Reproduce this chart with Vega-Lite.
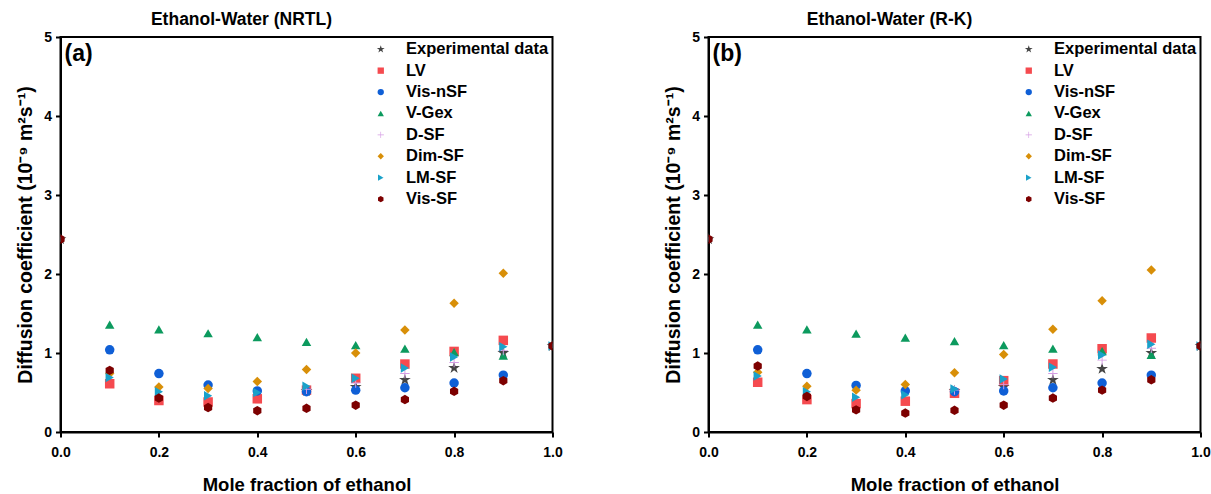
{
  "$schema": "https://vega.github.io/schema/vega-lite/v6.json",
  "padding": {"left": 14.5, "top": 9, "right": 0, "bottom": 0},
  "background": "white",
  "spacing": 99,
  "datasets": {
    "nrtl": [
      {"series": "Experimental data", "x": 0.0, "D": 2.44},
      {"series": "Experimental data", "x": 0.5, "D": 0.52},
      {"series": "Experimental data", "x": 0.6, "D": 0.57},
      {"series": "Experimental data", "x": 0.7, "D": 0.66},
      {"series": "Experimental data", "x": 0.8, "D": 0.81},
      {"series": "Experimental data", "x": 0.9, "D": 1.00},
      {"series": "Experimental data", "x": 1.0, "D": 1.09},
      {"series": "LV", "x": 0.1, "D": 0.61},
      {"series": "LV", "x": 0.2, "D": 0.40},
      {"series": "LV", "x": 0.3, "D": 0.38},
      {"series": "LV", "x": 0.4, "D": 0.42},
      {"series": "LV", "x": 0.5, "D": 0.53},
      {"series": "LV", "x": 0.6, "D": 0.68},
      {"series": "LV", "x": 0.7, "D": 0.86},
      {"series": "LV", "x": 0.8, "D": 1.02},
      {"series": "LV", "x": 0.9, "D": 1.16},
      {"series": "Vis-nSF", "x": 0.1, "D": 1.04},
      {"series": "Vis-nSF", "x": 0.2, "D": 0.74},
      {"series": "Vis-nSF", "x": 0.3, "D": 0.595},
      {"series": "Vis-nSF", "x": 0.4, "D": 0.52},
      {"series": "Vis-nSF", "x": 0.5, "D": 0.51},
      {"series": "Vis-nSF", "x": 0.6, "D": 0.53},
      {"series": "Vis-nSF", "x": 0.7, "D": 0.56},
      {"series": "Vis-nSF", "x": 0.8, "D": 0.62},
      {"series": "Vis-nSF", "x": 0.9, "D": 0.72},
      {"series": "V-Gex", "x": 0.1, "D": 1.36},
      {"series": "V-Gex", "x": 0.2, "D": 1.30},
      {"series": "V-Gex", "x": 0.3, "D": 1.25},
      {"series": "V-Gex", "x": 0.4, "D": 1.20},
      {"series": "V-Gex", "x": 0.5, "D": 1.14},
      {"series": "V-Gex", "x": 0.6, "D": 1.10},
      {"series": "V-Gex", "x": 0.7, "D": 1.055},
      {"series": "V-Gex", "x": 0.8, "D": 1.01},
      {"series": "V-Gex", "x": 0.9, "D": 0.965},
      {"series": "D-SF", "x": 0.5, "D": 0.54},
      {"series": "D-SF", "x": 0.6, "D": 0.62},
      {"series": "D-SF", "x": 0.7, "D": 0.74},
      {"series": "D-SF", "x": 0.8, "D": 0.88},
      {"series": "D-SF", "x": 0.9, "D": 1.03},
      {"series": "Dim-SF", "x": 0.1, "D": 0.74},
      {"series": "Dim-SF", "x": 0.2, "D": 0.57},
      {"series": "Dim-SF", "x": 0.3, "D": 0.55},
      {"series": "Dim-SF", "x": 0.4, "D": 0.64},
      {"series": "Dim-SF", "x": 0.5, "D": 0.79},
      {"series": "Dim-SF", "x": 0.6, "D": 1.00},
      {"series": "Dim-SF", "x": 0.7, "D": 1.29},
      {"series": "Dim-SF", "x": 0.8, "D": 1.63},
      {"series": "Dim-SF", "x": 0.9, "D": 2.01},
      {"series": "LM-SF", "x": 0.0, "D": 2.44},
      {"series": "LM-SF", "x": 0.1, "D": 0.69},
      {"series": "LM-SF", "x": 0.2, "D": 0.51},
      {"series": "LM-SF", "x": 0.3, "D": 0.46},
      {"series": "LM-SF", "x": 0.4, "D": 0.50},
      {"series": "LM-SF", "x": 0.5, "D": 0.58},
      {"series": "LM-SF", "x": 0.6, "D": 0.68},
      {"series": "LM-SF", "x": 0.7, "D": 0.81},
      {"series": "LM-SF", "x": 0.8, "D": 0.95},
      {"series": "LM-SF", "x": 0.9, "D": 1.08},
      {"series": "LM-SF", "x": 1.0, "D": 1.09},
      {"series": "Vis-SF", "x": 0.0, "D": 2.44},
      {"series": "Vis-SF", "x": 0.1, "D": 0.78},
      {"series": "Vis-SF", "x": 0.2, "D": 0.43},
      {"series": "Vis-SF", "x": 0.3, "D": 0.31},
      {"series": "Vis-SF", "x": 0.4, "D": 0.27},
      {"series": "Vis-SF", "x": 0.5, "D": 0.30},
      {"series": "Vis-SF", "x": 0.6, "D": 0.34},
      {"series": "Vis-SF", "x": 0.7, "D": 0.41},
      {"series": "Vis-SF", "x": 0.8, "D": 0.515},
      {"series": "Vis-SF", "x": 0.9, "D": 0.65},
      {"series": "Vis-SF", "x": 1.0, "D": 1.09}
    ],
    "rk": [
      {"series": "Experimental data", "x": 0.0, "D": 2.44},
      {"series": "Experimental data", "x": 0.5, "D": 0.52},
      {"series": "Experimental data", "x": 0.6, "D": 0.57},
      {"series": "Experimental data", "x": 0.7, "D": 0.66},
      {"series": "Experimental data", "x": 0.8, "D": 0.80},
      {"series": "Experimental data", "x": 0.9, "D": 1.00},
      {"series": "Experimental data", "x": 1.0, "D": 1.09},
      {"series": "LV", "x": 0.1, "D": 0.63},
      {"series": "LV", "x": 0.2, "D": 0.41},
      {"series": "LV", "x": 0.3, "D": 0.36},
      {"series": "LV", "x": 0.4, "D": 0.39},
      {"series": "LV", "x": 0.5, "D": 0.49},
      {"series": "LV", "x": 0.6, "D": 0.65},
      {"series": "LV", "x": 0.7, "D": 0.86},
      {"series": "LV", "x": 0.8, "D": 1.055},
      {"series": "LV", "x": 0.9, "D": 1.19},
      {"series": "Vis-nSF", "x": 0.1, "D": 1.04},
      {"series": "Vis-nSF", "x": 0.2, "D": 0.74},
      {"series": "Vis-nSF", "x": 0.3, "D": 0.59},
      {"series": "Vis-nSF", "x": 0.4, "D": 0.52},
      {"series": "Vis-nSF", "x": 0.5, "D": 0.51},
      {"series": "Vis-nSF", "x": 0.6, "D": 0.52},
      {"series": "Vis-nSF", "x": 0.7, "D": 0.56},
      {"series": "Vis-nSF", "x": 0.8, "D": 0.62},
      {"series": "Vis-nSF", "x": 0.9, "D": 0.72},
      {"series": "V-Gex", "x": 0.1, "D": 1.36},
      {"series": "V-Gex", "x": 0.2, "D": 1.30},
      {"series": "V-Gex", "x": 0.3, "D": 1.245},
      {"series": "V-Gex", "x": 0.4, "D": 1.195},
      {"series": "V-Gex", "x": 0.5, "D": 1.15},
      {"series": "V-Gex", "x": 0.6, "D": 1.10},
      {"series": "V-Gex", "x": 0.7, "D": 1.055},
      {"series": "V-Gex", "x": 0.8, "D": 1.025},
      {"series": "V-Gex", "x": 0.9, "D": 0.975},
      {"series": "D-SF", "x": 0.5, "D": 0.53},
      {"series": "D-SF", "x": 0.6, "D": 0.60},
      {"series": "D-SF", "x": 0.7, "D": 0.74},
      {"series": "D-SF", "x": 0.8, "D": 0.91},
      {"series": "D-SF", "x": 0.9, "D": 1.06},
      {"series": "Dim-SF", "x": 0.1, "D": 0.755},
      {"series": "Dim-SF", "x": 0.2, "D": 0.58},
      {"series": "Dim-SF", "x": 0.3, "D": 0.53},
      {"series": "Dim-SF", "x": 0.4, "D": 0.60},
      {"series": "Dim-SF", "x": 0.5, "D": 0.75},
      {"series": "Dim-SF", "x": 0.6, "D": 0.98},
      {"series": "Dim-SF", "x": 0.7, "D": 1.30},
      {"series": "Dim-SF", "x": 0.8, "D": 1.66},
      {"series": "Dim-SF", "x": 0.9, "D": 2.05},
      {"series": "LM-SF", "x": 0.0, "D": 2.44},
      {"series": "LM-SF", "x": 0.1, "D": 0.71},
      {"series": "LM-SF", "x": 0.2, "D": 0.51},
      {"series": "LM-SF", "x": 0.3, "D": 0.44},
      {"series": "LM-SF", "x": 0.4, "D": 0.47},
      {"series": "LM-SF", "x": 0.5, "D": 0.545},
      {"series": "LM-SF", "x": 0.6, "D": 0.67},
      {"series": "LM-SF", "x": 0.7, "D": 0.82},
      {"series": "LM-SF", "x": 0.8, "D": 0.975},
      {"series": "LM-SF", "x": 0.9, "D": 1.11},
      {"series": "LM-SF", "x": 1.0, "D": 1.09},
      {"series": "Vis-SF", "x": 0.0, "D": 2.44},
      {"series": "Vis-SF", "x": 0.1, "D": 0.835},
      {"series": "Vis-SF", "x": 0.2, "D": 0.45},
      {"series": "Vis-SF", "x": 0.3, "D": 0.28},
      {"series": "Vis-SF", "x": 0.4, "D": 0.24},
      {"series": "Vis-SF", "x": 0.5, "D": 0.275},
      {"series": "Vis-SF", "x": 0.6, "D": 0.34},
      {"series": "Vis-SF", "x": 0.7, "D": 0.43},
      {"series": "Vis-SF", "x": 0.8, "D": 0.53},
      {"series": "Vis-SF", "x": 0.9, "D": 0.66},
      {"series": "Vis-SF", "x": 1.0, "D": 1.09}
    ]
  },
  "hconcat": [
    {
      "width": 492,
      "height": 395,
      "title": {"text": "Ethanol-Water (NRTL)", "dx": -65},
      "layer": [
        {
          "data": {"name": "nrtl"},
          "mark": {"type": "point", "filled": true, "opacity": 1, "size": 90, "clip": true},
          "encoding": {
            "x": {"field": "x", "type": "quantitative", "title": "Mole fraction of ethanol",
                  "scale": {"domain": [0, 1], "nice": false},
                  "axis": {"values": [0, 0.2, 0.4, 0.6, 0.8, 1.0], "format": ".1f"}},
            "y": {"field": "D", "type": "quantitative", "title": "Diffusion coefficient (10⁻⁹ m²s⁻¹)",
                  "scale": {"domain": [0, 5], "nice": false},
                  "axis": {"values": [0, 1, 2, 3, 4, 5], "format": "d"}},
            "color": {"field": "series", "type": "nominal",
                      "scale": {"domain": ["Experimental data", "LV", "Vis-nSF", "V-Gex", "D-SF", "Dim-SF", "LM-SF", "Vis-SF"],
                                "range": ["#454545", "#f54a4f", "#0f5fd6", "#0c9a5e", "#d59de4", "#d88f08", "#1aa1c9", "#7d0000"]},
                      "legend": {"title": null, "orient": "top-right", "offset": 4}},
            "shape": {"field": "series", "type": "nominal",
                      "scale": {"domain": ["Experimental data", "LV", "Vis-nSF", "V-Gex", "D-SF", "Dim-SF", "LM-SF", "Vis-SF"],
                                "range": ["M0,-1.3L0.292,-0.402L1.236,-0.402L0.472,0.153L0.764,1.052L0,0.497L-0.764,1.052L-0.472,0.153L-1.236,-0.402L-0.292,-0.402Z", "square", "circle", "triangle-up", "M-1,-0.1H-0.1V-1H0.1V-0.1H1V0.1H0.1V1H-0.1V0.1H-1Z", "diamond", "triangle-right", "M0,-1L0.866,-0.5L0.866,0.5L0,1L-0.866,0.5L-0.866,-0.5Z"]},
                      "legend": {"title": null, "orient": "top-right", "offset": 4}}
          }
        },
        {
          "data": {"values": [{"label": "(a)"}]},
          "mark": {"type": "text", "align": "left", "baseline": "top", "dx": 4, "dy": 6, "fontSize": 23, "fontWeight": "bold", "font": "Liberation Sans", "color": "black"},
          "encoding": {"x": {"datum": 0}, "y": {"datum": 5}, "text": {"field": "label"}}
        }
      ]
    },
    {
      "width": 492,
      "height": 395,
      "title": {"text": "Ethanol-Water (R-K)", "dx": -65},
      "layer": [
        {
          "data": {"name": "rk"},
          "mark": {"type": "point", "filled": true, "opacity": 1, "size": 90, "clip": true},
          "encoding": {
            "x": {"field": "x", "type": "quantitative", "title": "Mole fraction of ethanol",
                  "scale": {"domain": [0, 1], "nice": false},
                  "axis": {"values": [0, 0.2, 0.4, 0.6, 0.8, 1.0], "format": ".1f"}},
            "y": {"field": "D", "type": "quantitative", "title": "Diffusion coefficient (10⁻⁹ m²s⁻¹)",
                  "scale": {"domain": [0, 5], "nice": false},
                  "axis": {"values": [0, 1, 2, 3, 4, 5], "format": "d"}},
            "color": {"field": "series", "type": "nominal",
                      "scale": {"domain": ["Experimental data", "LV", "Vis-nSF", "V-Gex", "D-SF", "Dim-SF", "LM-SF", "Vis-SF"],
                                "range": ["#454545", "#f54a4f", "#0f5fd6", "#0c9a5e", "#d59de4", "#d88f08", "#1aa1c9", "#7d0000"]},
                      "legend": {"title": null, "orient": "top-right", "offset": 4}},
            "shape": {"field": "series", "type": "nominal",
                      "scale": {"domain": ["Experimental data", "LV", "Vis-nSF", "V-Gex", "D-SF", "Dim-SF", "LM-SF", "Vis-SF"],
                                "range": ["M0,-1.3L0.292,-0.402L1.236,-0.402L0.472,0.153L0.764,1.052L0,0.497L-0.764,1.052L-0.472,0.153L-1.236,-0.402L-0.292,-0.402Z", "square", "circle", "triangle-up", "M-1,-0.1H-0.1V-1H0.1V-0.1H1V0.1H0.1V1H-0.1V0.1H-1Z", "diamond", "triangle-right", "M0,-1L0.866,-0.5L0.866,0.5L0,1L-0.866,0.5L-0.866,-0.5Z"]},
                      "legend": {"title": null, "orient": "top-right", "offset": 4}}
          }
        },
        {
          "data": {"values": [{"label": "(b)"}]},
          "mark": {"type": "text", "align": "left", "baseline": "top", "dx": 4, "dy": 6, "fontSize": 23, "fontWeight": "bold", "font": "Liberation Sans", "color": "black"},
          "encoding": {"x": {"datum": 0}, "y": {"datum": 5}, "text": {"field": "label"}}
        }
      ]
    }
  ],
  "resolve": {"scale": {"color": "independent", "shape": "independent"}, "legend": {"color": "independent", "shape": "independent"}},
  "config": {
    "font": "Liberation Sans",
    "view": {"stroke": "black", "strokeWidth": 2},
    "title": {"fontSize": 17.5, "fontWeight": "bold", "font": "Liberation Sans", "color": "black", "offset": 2},
    "axis": {
      "grid": false, "labelFlush": false, "labelOverlap": false,
      "domainColor": "black", "domainWidth": 2,
      "tickColor": "black", "tickWidth": 2, "tickSize": 5,
      "labelFont": "Liberation Sans", "labelFontSize": 14, "labelFontWeight": "bold", "labelColor": "black",
      "titleFont": "Liberation Sans", "titleFontWeight": "bold", "titleColor": "black"
    },
    "axisX": {"titlePadding": 16, "labelPadding": 8, "titleFontSize": 18.5},
    "axisY": {"titlePadding": 8, "labelPadding": 4, "titleFontSize": 19.5},
    "legend": {
      "labelFont": "Liberation Sans", "labelFontSize": 16.5, "labelFontWeight": "bold", "labelColor": "black",
      "symbolSize": 40, "symbolStrokeWidth": 0, "labelOffset": 17, "rowPadding": 4.4, "padding": 0, "symbolLimit": 0
    }
  }
}
